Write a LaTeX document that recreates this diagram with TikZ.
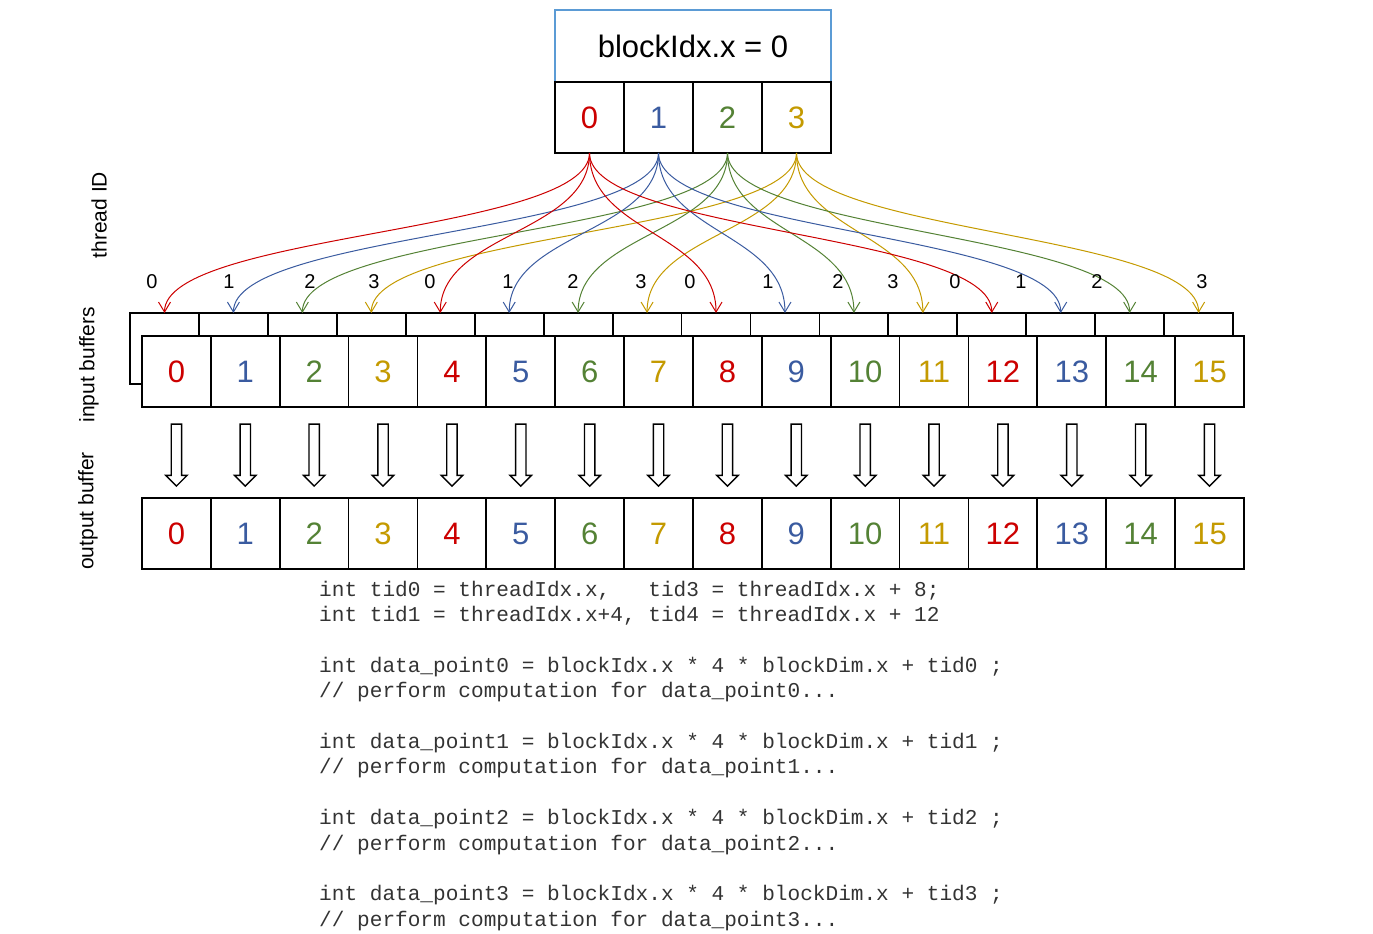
\documentclass[tikz,border=0pt]{standalone}
\usepackage{fontspec}
\setmainfont{Liberation Sans}
\newfontfamily\codefont{Liberation Mono}
\usetikzlibrary{
    arrows.meta,
    calc,
    positioning,
    shapes.arrows
}
\definecolor{col0}{HTML}{CC0000}
\definecolor{col1}{HTML}{3A5BA0}
\definecolor{col2}{HTML}{548235}
\definecolor{col3}{HTML}{C49A00}
\definecolor{boxblue}{HTML}{5B9BD5}
\definecolor{codegrey}{HTML}{333333}
\tikzset{
    every picture/.style = {
        > = {Straight Barb[length = 10pt, width = 12pt]}
    },
    cell/.style = {
        draw,
        line width = 1.8pt,
        fill = white,
        minimum width = 68.9pt,
        minimum height = 71pt,
        inner sep = 0pt,
        outer sep = 0pt,
        font = \fontsize{31}{36}\selectfont
    },
    flow/.style = {
        ->,
        line width = 1pt
    },
    idlabel/.style = {
        anchor = base,
        inner sep = 0pt,
        font = \fontsize{20}{24}\selectfont
    },
    sidelabel/.style = {
        rotate = 90,
        inner sep = 0pt,
        font = \fontsize{21}{25}\selectfont
    },
    copyarrow/.style = {
        single arrow,
        draw,
        fill = white,
        line width = 1.4pt,
        inner xsep = 0pt,
        inner ysep = 4.5pt,
        single arrow head extend = 5.5pt,
        single arrow tip angle = 90,
        minimum height = 62pt,
        rotate = -90
    }
}

\begin{document}
\begin{tikzpicture}[x = 1pt, y = -1pt]
    \useasboundingbox (0, 0) rectangle (1373, 934);

    % block and its threads
    \node[draw = boxblue, line width = 1.2pt, minimum width = 276pt, minimum height = 72pt,
          inner sep = 0pt, font = \fontsize{31}{36}\selectfont] (block) at (693, 46) {blockIdx.x = 0};
    \foreach \t in {0,...,3}
        \node[cell, minimum width = 69pt, text = col\t] (t\t) at ({589.5 + 69*\t}, 117.5) {\t};

    % input buffers (back row, then front row)
    \foreach \i in {0,...,15}
        \node[cell] (b\i) at ({164.5 + 68.94*\i}, 348.5) {};
    \foreach \i in {0,...,15} {
        \pgfmathtruncatemacro\m{mod(\i, 4)}
        \node[cell, text = col\m] (in\i) at ({176.4 + 68.875*\i}, 371.5) {\i};
        \node[cell, text = col\m] (out\i) at ({176.4 + 68.875*\i}, 533.5) {\i};
        \node[copyarrow] (c\i) at ($(in\i.south)!0.5!(out\i.north)$) {};
        \draw[flow, col\m] (t\m.south) .. controls +(0, 80) and +(0, -80) .. (b\i.north);
    }

    % thread ids over the buffers
    \foreach \i/\x in {0/152, 1/229, 2/310, 3/374, 4/430, 5/508, 6/573, 7/641,
                       8/690, 9/768, 10/838, 11/893, 12/955, 13/1021, 14/1097, 15/1202} {
        \pgfmathtruncatemacro\m{mod(\i, 4)}
        \node[idlabel] (l\i) at (\x, 288) {\m};
    }

    \node[sidelabel] (tidlabel) at (99, 215) {thread ID};
    \node[sidelabel] (inlabel) at (89, 365) {input buffers};
    \node[sidelabel] (outlabel) at (88, 511) {output buffer};

    \node[anchor = north west, inner sep = 0pt, align = left, text = codegrey,
          font = \codefont\fontsize{21.1}{25.4}\selectfont\frenchspacing] (code) at (319, 580.5)
        {int tid0 = threadIdx.x,~~~tid3 = threadIdx.x + 8;\\
         int tid1 = threadIdx.x+4, tid4 = threadIdx.x + 12\\[25.4pt]
         int data\_point0 = blockIdx.x * 4 * blockDim.x + tid0 ;\\
         // perform computation for data\_point0...\\[25.4pt]
         int data\_point1 = blockIdx.x * 4 * blockDim.x + tid1 ;\\
         // perform computation for data\_point1...\\[25.4pt]
         int data\_point2 = blockIdx.x * 4 * blockDim.x + tid2 ;\\
         // perform computation for data\_point2...\\[25.4pt]
         int data\_point3 = blockIdx.x * 4 * blockDim.x + tid3 ;\\
         // perform computation for data\_point3...};
\end{tikzpicture}
\end{document}
